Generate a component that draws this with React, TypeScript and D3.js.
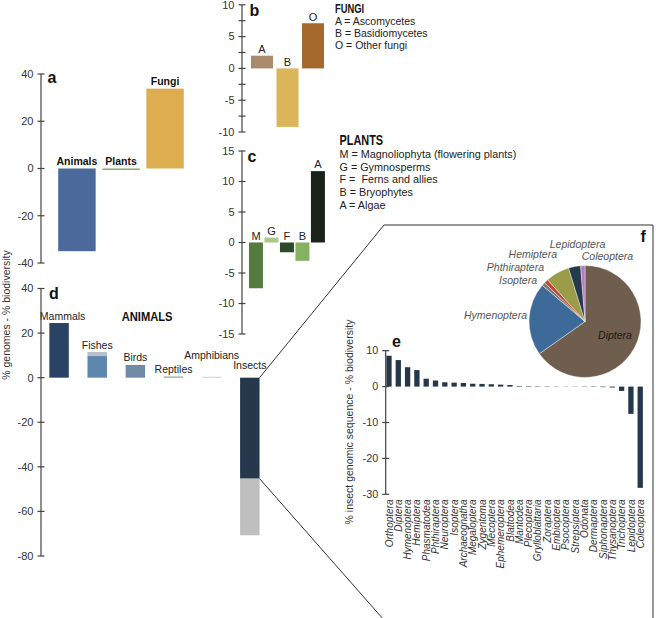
import React from "react";
import * as d3 from "d3";

// ---------- DATA ----------
const kingdomCats = ["Animals", "Plants", "Fungi"];
const kingdomVals = [-35, -0.6, 33.8];

const fungiCats = ["A", "B", "O"];
const fungiVals = [2, -9.2, 7.1];
const fungiLegend = ["A = Ascomycetes", "B = Basidiomycetes", "O = Other fungi"];

const plantCats = ["M", "G", "F", "B", "A"];
const plantVals = [-7.5, 0.8, -1.6, -3, 11.7];
const plantLegend = [
  "M = Magnoliophyta (flowering plants)",
  "G = Gymnosperms",
  "F =  Ferns and allies",
  "B = Bryophytes",
  "A = Algae",
];

const animalCats = ["Mammals", "Fishes", "Birds", "Reptiles", "Amphibians", "Insects"];
const animalVals = [24.5, 9.7, 5.7, 0.5, 0.4, -45.3];
const animalExtra = [0, 1.8, 0, 0, 0, -25.4];

const insectOrders = [
  "Orthoptera", "Diptera", "Hymenoptera", "Hemiptera", "Phasmatodea", "Phthiraptera",
  "Neuroptera", "Isoptera", "Archaeognatha", "Megaloptera", "Zygentoma", "Mecoptera",
  "Ephemeroptera", "Blattodea", "Mantodea", "Plecoptera", "Grylloblattaria", "Zoraptera",
  "Embioptera", "Psocoptera", "Strepsiptera", "Odonata", "Dermaptera", "Siphonaptera",
  "Thysanoptera", "Trichoptera", "Lepidoptera", "Coleoptera",
];
const insectVals = [
  8.6, 7.4, 5.4, 4.6, 2.2, 1.7, 1.2, 1.1, 1.0, 0.8, 0.75, 0.65, 0.55, 0.45,
  0.15, 0.12, 0.1, 0.08, 0.06, 0.05, -0.05, -0.08, -0.1, -0.15, -0.25, -1.2, -7.6, -28.2,
];

const pieOrders = ["Diptera", "Hymenoptera", "Isoptera", "Phthiraptera", "Hemiptera", "Lepidoptera", "Coleoptera"];
const pieShares = [65.3, 21, 1, 1.2, 6.9, 3.5, 1.25];

const ticksA = [40, 20, 0, -20, -40];
const ticksB = [10, 7.5, 5, 2.5, 0, -2.5, -5, -7.5, -10];
const ticksC = [15, 10, 5, 0, -5, -10, -15];
const ticksD = [40, 20, 0, -20, -40, -60, -80];
const ticksE = [10, 0, -10, -20, -30];

// ---------- STYLE ----------
const FONT = "'Liberation Sans', Arial, Helvetica, sans-serif";
const AX = "#444";
const kingdomColors = ["#4b6a9b", "#7aac5a", "#dcae50"];
const fungiColors = ["#a98a6b", "#dbb55a", "#a5692e"];
const plantColors = ["#557b3f", "#a8c88a", "#2c4a28", "#86b062", "#1a2319"];
const animalColors = ["#2a4263", "#5d87ae", "#6e8aa4", "#8a97a5", "#c6cbd6", "#26384b"];
const animalExtraColors = ["#bfbfbf", "#b8bfc6", "#bfbfbf", "#bfbfbf", "#bfbfbf", "#bfbfbf"];
const insectColor = "#25374b";
const pieColors = ["#6f5e4d", "#3e6a99", "#7d7a72", "#c0453a", "#9b9c4a", "#27394d", "#b57abf"];

function YAxis({ x, scale, ticks, show = (t: number) => true, fs = 11 }: any) {
  const [r0, r1] = scale.range();
  return (
    <g>
      <line x1={x} x2={x} y1={Math.min(r0, r1)} y2={Math.max(r0, r1)} stroke={AX} strokeWidth={1.2} />
      {ticks.map((t: number) => (
        <g key={t}>
          <line x1={x - 3.5} x2={x + 3.5} y1={scale(t)} y2={scale(t)} stroke={AX} strokeWidth={1.2} />
          {show(t) && (
            <text x={x - 7.5} y={scale(t)} dy="0.35em" textAnchor="end" fontSize={fs} fill="#333">
              {String(t)}
            </text>
          )}
        </g>
      ))}
    </g>
  );
}

function barRect(x: number, w: number, y0: number, y1: number, fill: string, key: any) {
  return <rect key={key} x={x} width={w} y={Math.min(y0, y1)} height={Math.abs(y1 - y0)} fill={fill} />;
}

export default function App() {
  // Panel a
  const xA = d3.scaleBand().domain(kingdomCats).range([56, 186]).paddingInner(0.15).paddingOuter(0.05);
  const yA = d3.scaleLinear().domain([-40, 40]).range([263, 74]);
  // Panel b
  const xB = d3.scaleBand().domain(fungiCats).range([249.2, 325.8]).paddingInner(0.137).paddingOuter(0.07);
  const yB = d3.scaleLinear().domain([-10, 10]).range([132, 4.8]);
  // Panel c
  const xC = d3.scaleBand().domain(plantCats).range([248.2, 325.7]).paddingInner(0.097).paddingOuter(0.05);
  const yC = d3.scaleLinear().domain([-15, 15]).range([334, 151]);
  // Panel d
  const xD = d3.scaleBand().domain(animalCats).range([40, 268.9]).paddingInner(0.49).paddingOuter(0.245);
  const yD = d3.scaleLinear().domain([-80, 40]).range([556, 288.5]);
  // Panel e
  const xE = d3.scaleBand().domain(insectOrders).range([384, 645.2]).paddingInner(0.43).paddingOuter(0.25);
  const yE = d3.scaleLinear().domain([-30, 10]).range([494.3, 350.7]);
  // Panel f
  const pieCx = 585, pieCy = 321.5, pieR = 56;
  const pie = d3.pie<number>().sort(null).value((d) => d)(pieShares);
  const arc = d3.arc<any>().innerRadius(0).outerRadius(pieR);
  const pieLabelOffsets: [number, number, string][] = [
    [30, 17, "middle"],
    [-58, -3, "end"],
    [-48, -38, "end"],
    [-41, -51, "end"],
    [-28, -64, "end"],
    [-7.5, -73.7, "middle"],
    [-3.3, -61.3, "start"],
  ];

  // Zoom box linking insects bar to panel e
  const insIdx = animalCats.indexOf("Insects");
  const insRight = (xD("Insects") as number) + xD.bandwidth();
  const insTop = yD(0);
  const insMid = yD(animalVals[insIdx]);
  const boxL = 384, boxT = 225, boxR = 653, boxB = 620;
  const slope = (boxB - insMid) / (boxL - insRight);
  const lowEndX = insRight + (boxB - insMid) / (slope || 1);

  const dLabelLift = [0, 0, 0, 0, 14, 5];

  return (
    <svg
      width={656}
      height={618}
      style={{ position: "absolute", left: 0, top: 0, background: "#fff" }}
      fontFamily={FONT}
    >
      <rect width={656} height={618} fill="#fff" />

      {/* shared y label a/d */}
      <text transform={`translate(10,315) rotate(-90)`} textAnchor="middle" fontSize={10.5} fill="#333">
        % genomes - % biodiversity
      </text>

      {/* ---------- Panel a ---------- */}
      {kingdomCats.map((c, i) =>
        barRect(xA(c) as number, xA.bandwidth(), yA(0), yA(kingdomVals[i]), kingdomColors[i], c)
      )}
      {kingdomCats.map((c, i) => (
        <text
          key={"la" + c}
          x={(xA(c) as number) + xA.bandwidth() / 2}
          y={Math.min(yA(0), yA(kingdomVals[i])) - 4}
          textAnchor="middle"
          fontSize={10.5}
          fontWeight="bold"
          fill="#111"
        >
          {c}
        </text>
      ))}
      <YAxis x={41} scale={yA} ticks={ticksA} />
      <text x={47.5} y={83} fontSize={16} fontWeight="bold" fill="#111">a</text>

      {/* ---------- Panel b ---------- */}
      {fungiCats.map((c, i) =>
        barRect(xB(c) as number, xB.bandwidth(), yB(0), yB(fungiVals[i]), fungiColors[i], c)
      )}
      {fungiCats.map((c, i) => (
        <text
          key={"lb" + c}
          x={(xB(c) as number) + xB.bandwidth() / 2}
          y={Math.min(yB(0), yB(fungiVals[i])) - 2.5}
          textAnchor="middle"
          fontSize={11}
          fill="#222"
        >
          {c}
        </text>
      ))}
      <YAxis x={242} scale={yB} ticks={ticksB} show={(t: number) => t % 5 === 0} />
      <text x={249.5} y={15.5} fontSize={16} fontWeight="bold" fill="#111">b</text>
      <text transform="translate(335,12.5) scale(0.75,1)" fontSize={12.5} fontWeight="bold" fill="#111">FUNGI</text>
      {fungiLegend.map((s, i) => (
        <text key={s} x={335} y={24.5 + i * 12} fontSize={10.5} fill="#222">{s}</text>
      ))}

      {/* ---------- Panel c ---------- */}
      {plantCats.map((c, i) =>
        barRect(xC(c) as number, xC.bandwidth(), yC(0), yC(plantVals[i]), plantColors[i], c + i)
      )}
      {plantCats.map((c, i) => (
        <text
          key={"lc" + c + i}
          x={(xC(c) as number) + xC.bandwidth() / 2}
          y={Math.min(yC(0), yC(plantVals[i])) - 3}
          textAnchor="middle"
          fontSize={11}
          fill="#222"
        >
          {c}
        </text>
      ))}
      <YAxis x={242} scale={yC} ticks={ticksC} />
      <text x={247.5} y={162} fontSize={16} fontWeight="bold" fill="#111">c</text>
      <text transform="translate(339.5,145) scale(0.78,1)" fontSize={14} fontWeight="bold" fill="#111">PLANTS</text>
      {plantLegend.map((s, i) => (
        <text key={s} x={339.5} y={158 + i * 12.65} fontSize={10.8} fill="#222" style={{ whiteSpace: "pre" }}>
          {s}
        </text>
      ))}

      {/* ---------- Panel d ---------- */}
      {animalCats.map((c, i) => {
        const x = xD(c) as number;
        const w = xD.bandwidth();
        const v = animalVals[i];
        const e = animalExtra[i];
        return (
          <g key={c}>
            {barRect(x, w, yD(0), yD(v), animalColors[i], "m")}
            {e !== 0 && barRect(x, w, yD(v), yD(v + e), animalExtraColors[i], "e")}
          </g>
        );
      })}
      {animalCats.map((c, i) => {
        const v = animalVals[i] + animalExtra[i];
        const cx = (xD(c) as number) + xD.bandwidth() / 2;
        const approxW = c.length * 5.6;
        const x = Math.max(cx, 41 + approxW / 2 + 2);
        return (
          <text
            key={"ld" + c}
            x={x}
            y={Math.min(yD(0), yD(v)) - 3.5 - dLabelLift[i]}
            textAnchor="middle"
            fontSize={10.5}
            fill="#222"
          >
            {c}
          </text>
        );
      })}
      <YAxis x={41} scale={yD} ticks={ticksD} />
      <text x={49} y={299} fontSize={16} fontWeight="bold" fill="#111">d</text>
      <text transform="translate(121.7,321) scale(0.86,1)" fontSize={13} fontWeight="bold" fill="#111">ANIMALS</text>

      {/* ---------- zoom box ---------- */}
      <path
        d={`M${insRight},${insTop} L${boxL},${boxT} L${boxR},${boxT} L${boxR},${boxB} M${insRight},${insMid} L${lowEndX},${boxB}`}
        fill="none"
        stroke="#333"
        strokeWidth={1}
      />

      {/* ---------- Panel e ---------- */}
      {insectOrders.map((c, i) =>
        barRect(xE(c) as number, xE.bandwidth(), yE(0), yE(insectVals[i]), insectColor, c)
      )}
      <YAxis x={385.7} scale={yE} ticks={ticksE} fs={10.8} />
      {insectOrders.map((c) => {
        const cx = (xE(c) as number) + xE.bandwidth() / 2 + 3.6;
        return (
          <text
            key={"le" + c}
            transform={`translate(${cx},499.5) rotate(-90)`}
            textAnchor="end"
            fontSize={10}
            fontStyle="italic"
            fill="#333"
          >
            {c}
          </text>
        );
      })}
      <text transform="translate(353,422) rotate(-90)" textAnchor="middle" fontSize={10.5} fill="#333">
        % insect genomic sequence - % biodiversity
      </text>
      <text x={392} y={346.7} fontSize={16} fontWeight="bold" fill="#111">e</text>

      {/* ---------- Panel f ---------- */}
      <g transform={`translate(${pieCx},${pieCy})`}>
        {pie.map((a, i) => (
          <path key={pieOrders[i]} d={arc(a) as string} fill={pieColors[i]} stroke="#fff" strokeWidth={0.4} />
        ))}
        {pieOrders.map((o, i) => (
          <text
            key={"lf" + o}
            x={pieLabelOffsets[i][0]}
            y={pieLabelOffsets[i][1]}
            textAnchor={pieLabelOffsets[i][2] as any}
            fontSize={10.5}
            fontStyle="italic"
            fill={i === 0 ? "#1a1a1a" : "#555"}
          >
            {o}
          </text>
        ))}
      </g>
      <text x={640.5} y={241.7} fontSize={16} fontWeight="bold" fill="#111">f</text>
    </svg>
  );
}
